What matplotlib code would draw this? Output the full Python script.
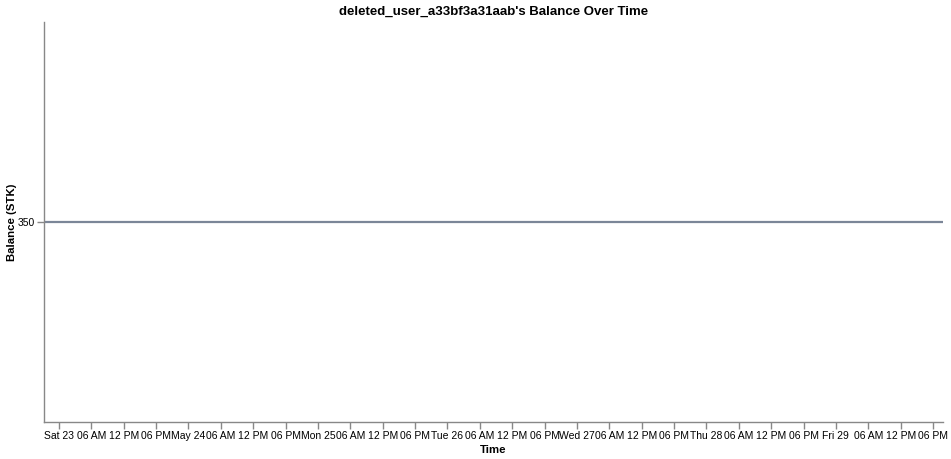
import numpy as np
import pandas as pd
import matplotlib
matplotlib.use("Agg")
from matplotlib import pyplot as plt

plt.rcParams['font.family'] = ['Liberation Sans', 'DejaVu Sans']

# balance history
times = pd.to_datetime(["2020-05-22 21:13", "2020-05-29 19:51"])
balance = [350, 350]

# x ticks, every 6 hours
tick_times = pd.date_range("2020-05-23 00:00", "2020-05-29 18:00", freq="6h")
tick_labels = ["Sat 23", "06 AM", "12 PM", "06 PM",
               "May 24", "06 AM", "12 PM", "06 PM",
               "Mon 25", "06 AM", "12 PM", "06 PM",
               "Tue 26", "06 AM", "12 PM", "06 PM",
               "Wed 27", "06 AM", "12 PM", "06 PM",
               "Thu 28", "06 AM", "12 PM", "06 PM",
               "Fri 29", "06 AM", "12 PM", "06 PM"]

W, H = 951, 459
fig = plt.figure(figsize=(W / 100, H / 100), dpi=100)
ax = fig.add_axes([44 / W, 1 - 422 / H, (943 - 44) / W, (422 - 22) / H])

ax.plot(times, balance, color="#7b8698", linewidth=1.6, solid_capstyle="butt")

ax.set_xlim(times[0], times[-1])
ax.set_ylim(349, 351)
ax.set_yticks([350])
ax.set_yticklabels(["350"])
ax.set_xticks(tick_times)
ax.set_xticklabels(tick_labels)

for s in ["top", "right"]:
    ax.spines[s].set_visible(False)
for s in ["left", "bottom"]:
    ax.spines[s].set_color("#888888")
    ax.spines[s].set_linewidth(1)
ax.tick_params(axis="both", colors="#888888", labelcolor="black",
               labelsize=7.5, length=5, width=1, pad=1.5)

ax.set_title("deleted_user_a33bf3a31aab's Balance Over Time",
             fontsize=9.5, fontweight="bold", pad=5)
ax.set_xlabel("Time", fontsize=8.2, fontweight="bold", labelpad=3)
ax.set_ylabel("Balance (STK)", fontsize=8.2, fontweight="bold")
ax.yaxis.set_label_coords(-27 / (943 - 44), 0.5)

fig.savefig("out.png", dpi=100)
